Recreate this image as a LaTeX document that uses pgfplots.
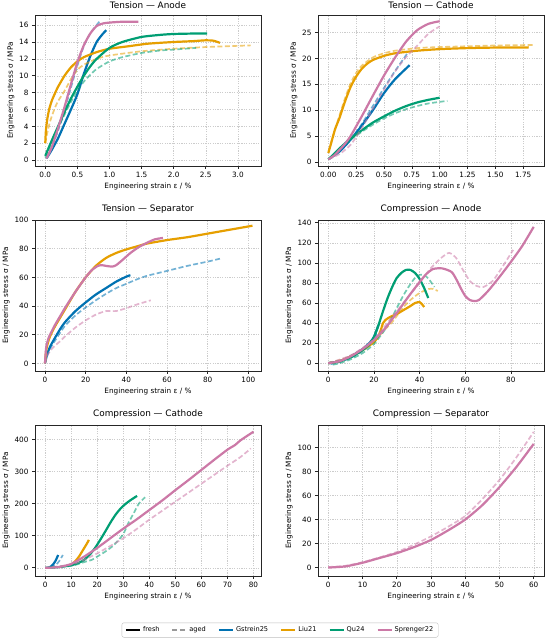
\documentclass[border=0pt]{standalone}
\usepackage{fontspec}
\setmainfont{DejaVu Sans}
\usepackage{pgfplots}
\pgfplotsset{compat=1.18}
\definecolor{cG}{HTML}{0072B2}
\definecolor{cL}{HTML}{E69F00}
\definecolor{cQ}{HTML}{009E73}
\definecolor{cS}{HTML}{CC79A7}
\pgfplotsset{
  myax/.style={
    scale only axis, width=226pt, height=151pt, anchor=south west,
    axis line style={black!85, line width=0.7pt},
    grid=major, major grid style={gray!40, line width=0.45pt, dash pattern=on 1.2pt off 1.2pt},
    tick align=outside, tick pos=left,
    major tick length=3pt, tick style={black!85, line width=0.7pt},
    /pgf/number format/assume math mode=true,
    tick label style={font=\fontsize{7.3}{8}\selectfont},
    label style={font=\fontsize{7.3}{8}\selectfont},
    title style={font=\fontsize{8.9}{10}\selectfont, yshift=-3pt},
    xlabel={Engineering strain ε / \%},
    ylabel={Engineering stress σ / MPa},
    xlabel style={yshift=2pt},
    ylabel style={yshift=-2pt},
    scaled ticks=false,
  },
  fr/.style={line width=2.2pt, smooth, tension=0.4},
  ag/.style={line width=1.7pt, dash pattern=on 5pt off 2.5pt, opacity=0.55, smooth, tension=0.4},
}
\begin{document}
\begin{tikzpicture}
\useasboundingbox (0,0) rectangle (550pt,641pt);
% ---------------- Tension Anode
\begin{axis}[myax, at={(35pt,475pt)}, title={Tension — Anode},
  xmin=-0.16, xmax=3.36, ymin=-0.7, ymax=17.2,
  xtick={0,0.5,...,3.0}, ytick={0,2,...,16},
  xticklabel style={/pgf/number format/.cd, fixed, fixed zerofill, precision=1}]
\addplot[fr, cG] coordinates {(0.02,0.2) (0.1,1.2) (0.2,2.6) (0.3,4.3) (0.4,6.0) (0.5,7.8) (0.6,10.2) (0.7,12.3) (0.8,14.0) (0.9,15.0) (0.95,15.4)};
\addplot[ag, cG] coordinates {(0.02,0.2) (0.1,1.5) (0.2,3.5) (0.3,5.9) (0.4,8.6) (0.5,11.2) (0.6,13.5) (0.7,15.0) (0.8,16.0) (0.85,16.5)};
\addplot[fr, cL] coordinates {(0,2.0) (0.01,3.5) (0.03,4.8) (0.06,6.0) (0.1,7.0) (0.15,7.9) (0.2,8.7) (0.3,10.0) (0.4,11.0) (0.5,11.7) (0.6,12.2) (0.8,12.8) (1.0,13.2) (1.3,13.5) (1.6,13.8) (2.0,14.0) (2.3,14.1) (2.5,14.2) (2.62,14.15) (2.72,13.9)};
\addplot[ag, cL] coordinates {(0,2.0) (0.03,3.2) (0.08,4.7) (0.15,6.2) (0.2,7.0) (0.3,8.2) (0.4,9.6) (0.5,10.7) (0.6,11.3) (0.8,12.0) (1.0,12.4) (1.5,12.9) (2.0,13.2) (2.5,13.4) (3.2,13.6)};
\addplot[fr, cQ] coordinates {(0.0,0.5) (0.1,2.3) (0.2,4.0) (0.3,5.7) (0.4,7.3) (0.5,8.7) (0.6,10.0) (0.7,11.1) (0.8,12.0) (1.0,13.3) (1.2,14.0) (1.5,14.6) (1.8,14.85) (2.0,14.95) (2.3,15.0) (2.52,15.0)};
\addplot[ag, cQ] coordinates {(0,0.3) (0.1,2) (0.2,3.8) (0.3,5.4) (0.4,6.9) (0.5,8.2) (0.6,9.3) (0.7,10.1) (0.8,10.8) (1.0,11.7) (1.2,12.2) (1.5,12.7) (1.8,13.0) (2.0,13.1) (2.35,13.3)};
\addplot[fr, cS] coordinates {(0.02,0.2) (0.1,1.5) (0.2,3.8) (0.3,6.3) (0.4,9.0) (0.5,11.6) (0.6,13.6) (0.7,15.0) (0.8,15.9) (0.9,16.2) (1.0,16.3) (1.2,16.4) (1.45,16.4)};
\end{axis}
% ---------------- Tension Cathode
\begin{axis}[myax, at={(318pt,475pt)}, title={Tension — Cathode},
  xmin=-0.093, xmax=1.937, ymin=-0.8, ymax=28.4,
  xtick={0,0.25,...,1.75}, ytick={0,5,...,25},
  xticklabel style={/pgf/number format/.cd, fixed, fixed zerofill, precision=2}]
\addplot[fr, cG] coordinates {(0,0.5) (0.1,2.0) (0.2,4.3) (0.3,7.0) (0.4,10.0) (0.5,13.3) (0.6,16.0) (0.73,18.7)};
\addplot[ag, cG] coordinates {(0,0.5) (0.1,2.0) (0.2,4.3) (0.3,7.3) (0.4,10.8) (0.5,14.3) (0.6,17.6) (0.72,21.3)};
\addplot[fr, cL] coordinates {(0,1.7) (0.03,4) (0.06,6.3) (0.1,8.5) (0.15,11.7) (0.2,14.5) (0.25,16.5) (0.3,18.0) (0.35,19.0) (0.4,19.7) (0.5,20.5) (0.6,21.0) (0.8,21.5) (1.0,21.8) (1.25,22.0) (1.5,22.1) (1.8,22.1)};
\addplot[ag, cL] coordinates {(0,2.0) (0.05,5.5) (0.1,9) (0.15,12.3) (0.2,15.2) (0.25,17.2) (0.3,18.6) (0.4,20.2) (0.5,21.0) (0.6,21.5) (0.8,22.0) (1.0,22.2) (1.5,22.5) (1.84,22.6)};
\addplot[fr, cQ] coordinates {(0,0.5) (0.05,1.5) (0.1,2.6) (0.2,4.5) (0.3,6.1) (0.4,7.6) (0.5,8.8) (0.6,9.9) (0.7,10.8) (0.8,11.5) (0.9,12.0) (1.0,12.4)};
\addplot[ag, cQ] coordinates {(0,0.5) (0.1,2.4) (0.2,4.3) (0.3,5.8) (0.4,7.2) (0.5,8.4) (0.6,9.4) (0.7,10.2) (0.8,10.8) (0.9,11.3) (1.07,11.8)};
\addplot[fr, cS] coordinates {(0,0.5) (0.05,1.2) (0.1,2.3) (0.15,3.5) (0.2,5.0) (0.3,8.8) (0.4,12.8) (0.5,16.7) (0.6,20.2) (0.7,23.3) (0.8,25.5) (0.9,26.7) (1.0,27.2)};
\addplot[ag, cS] coordinates {(0,0.5) (0.1,1.5) (0.2,3.3) (0.3,6.5) (0.4,10.3) (0.5,14.0) (0.6,17.5) (0.7,20.3) (0.8,22.5) (0.9,24.8) (1.0,26.2)};
\end{axis}
% ---------------- Tension Separator
\begin{axis}[myax, at={(35pt,270pt)}, title={Tension — Separator},
  xmin=-4.9, xmax=106.2, ymin=-5.3, ymax=100,
  xtick={0,20,...,100}, ytick={0,20,...,100}]
\addplot[fr, cG] coordinates {(0,0) (1,6) (2,10) (3,13) (5,18) (7.5,24) (10,29) (15,36.5) (20,42.5) (25,48) (30,52.5) (35,57) (40,60.5) (42,61.5)};
\addplot[ag, cG] coordinates {(0,0) (1,5) (2,8.5) (3,11.5) (5,16) (7.5,21.5) (10,26.5) (15,33.5) (20,39) (25,44) (30,48.5) (35,52.5) (40,55.5) (45,58.5) (50,61) (60,64.5) (70,68) (80,71) (86,73)};
\addplot[fr, cL] coordinates {(0,0) (0.5,8) (1,12) (2,17) (3,20.5) (5,26) (7.5,32) (10,38) (15,50) (20,60) (25,68) (30,73.5) (35,77) (40,79.5) (45,81.5) (50,83.5) (60,86) (70,88) (80,90.5) (90,93) (102,96)};
\addplot[fr, cS] coordinates {(0,0) (0.5,10) (1,14) (2,18.5) (3,21.5) (5,27) (7.5,33) (10,39) (15,50) (20,60) (23,65) (26,68) (28,68.5) (30,68) (33,67.5) (35,68.5) (38,72) (42,77) (46,81) (50,84) (54,86.5) (58,87.5)};
\addplot[ag, cS] coordinates {(0,0) (1,5) (2,7.5) (3,9.5) (5,12.5) (7.5,15.5) (10,19) (15,25) (20,30) (25,34) (30,36.5) (35,36.5) (40,38.5) (45,41) (52,44)};
\end{axis}
% ---------------- Compression Anode
\begin{axis}[myax, at={(318pt,270pt)}, title={Compression — Anode},
  xmin=-4.5, xmax=94.5, ymin=-7.8, ymax=142.8,
  xtick={0,20,...,80}, ytick={0,20,...,140}]
\addplot[fr, cG] coordinates {(0,0) (5,2) (10,7) (15,14) (18,20) (20,26) (22,38)};
\addplot[ag, cG] coordinates {(1,-1) (5,1) (10,5.5) (15,12) (18,18) (20,24) (21.5,30)};
\addplot[fr, cL] coordinates {(0,0) (5,2) (10,7) (15,13) (20,21) (22,27) (23,33) (24,40) (25,43) (27,46) (30,49) (33,53) (36,57) (38,60) (40,61) (41,59) (42,56)};
\addplot[ag, cL] coordinates {(0,0) (10,7) (20,22) (25,34) (28,41) (30,47) (33,56) (36,63) (40,70) (44,74) (46,74) (48,72)};
\addplot[fr, cQ] coordinates {(0,0) (5,2) (10,6) (15,13) (18,19) (20,26) (22,38) (24,52) (26,65) (28,76) (30,85) (32,90) (34,93) (36,93) (38,90) (40,84) (42,75) (43.8,65)};
\addplot[ag, cQ] coordinates {(2,-1.5) (5,0) (10,4) (15,10) (20,19) (25,34) (28,46) (30,55) (33,68) (36,79) (38,85) (40,88) (42,88) (44,84) (46.5,76)};
\addplot[fr, cS] coordinates {(0,0) (5,2) (10,7) (15,14) (20,23) (25,35) (30,50) (35,66) (40,81) (43,89) (46,94) (50,94.5) (54,91) (56,84) (58,75) (60,67) (62,63) (64,62) (66,63) (70,72) (75,86) (80,101) (85,117) (90,136)};
\addplot[ag, cS] coordinates {(0,0) (10,8) (20,24) (30,52) (35,66) (40,80) (45,95) (50,106) (53,110) (56,105) (59,93) (62,82) (65,77) (68,76) (72,82) (76,95) (81,113)};
\end{axis}
% ---------------- Compression Cathode
\begin{axis}[myax, at={(35pt,65pt)}, title={Compression — Cathode},
  xmin=-3.9, xmax=82.9, ymin=-25.5, ymax=445,
  xtick={0,10,...,80}, ytick={0,100,...,400}]
\addplot[fr, cG] coordinates {(1,0) (2,3) (3,10) (4,22) (5,40)};
\addplot[ag, cG] coordinates {(2,0) (4,8) (5.5,22) (6.8,40)};
\addplot[fr, cL] coordinates {(10,10) (11.5,20) (13,35) (14.5,55) (16,75) (16.8,87)};
\addplot[fr, cQ] coordinates {(0,0) (5,2) (10,8) (13,16) (15,25) (17,40) (19,60) (21,85) (23,112) (25,140) (27,165) (29,185) (31,200) (33,212) (35.3,224)};
\addplot[ag, cQ] coordinates {(0,0) (10,6) (15,18) (18,25) (20,35) (23,50) (26,68) (28,85) (30,105) (32,140) (34,170) (36,200) (38.4,220)};
\addplot[fr, cS] coordinates {(0,0) (5,2) (10,12) (15,35) (20,62) (25,92) (30,122) (35,150) (40,180) (45,210) (50,242) (55,273) (60,305) (65,337) (70,368) (73,383) (75,397) (80,424)};
\addplot[ag, cS] coordinates {(0,0) (10,10) (15,25) (20,45) (25,68) (30,92) (35,120) (40,150) (45,178) (50,206) (55,234) (60,262) (65,290) (70,318) (75,345) (79,372)};
\end{axis}
% ---------------- Compression Separator
\begin{axis}[myax, at={(318pt,65pt)}, title={Compression — Separator},
  xmin=-3, xmax=63, ymin=-7, ymax=118.7,
  xtick={0,10,...,60}, ytick={0,20,...,100},
  legend style={at={(-0.168,-0.358)}, anchor=center, legend columns=6,
    draw=black!25, rounded corners=2pt, font=\fontsize{6.6}{8}\selectfont,
    /tikz/every even column/.append style={column sep=10pt}},
  legend image code/.code={\draw[#1] (0pt,0pt) -- (14pt,0pt);}]
\addlegendimage{black, line width=2.2pt}
\addlegendimage{gray, line width=1.7pt, dash pattern=on 5pt off 2.5pt, opacity=0.8}
\addlegendimage{cG, line width=2.2pt}
\addlegendimage{cL, line width=2.2pt}
\addlegendimage{cQ, line width=2.2pt}
\addlegendimage{cS, line width=2.2pt}
\legend{fresh, aged, Gstrein25, Liu21, Qu24, Sprenger22}
\addplot[fr, cS] coordinates {(0,0) (5,1) (10,4) (15,8) (20,12) (25,17) (30,23) (35,31) (40,40) (45,52) (50,67) (55,84) (60,103)};
\addplot[ag, cS] coordinates {(0,0.5) (5,1.5) (10,4.5) (15,8.5) (20,13) (25,19) (30,26) (35,34) (40,43) (45,57) (50,73) (55,92) (60,113)};
\end{axis}
\end{tikzpicture}
\end{document}
